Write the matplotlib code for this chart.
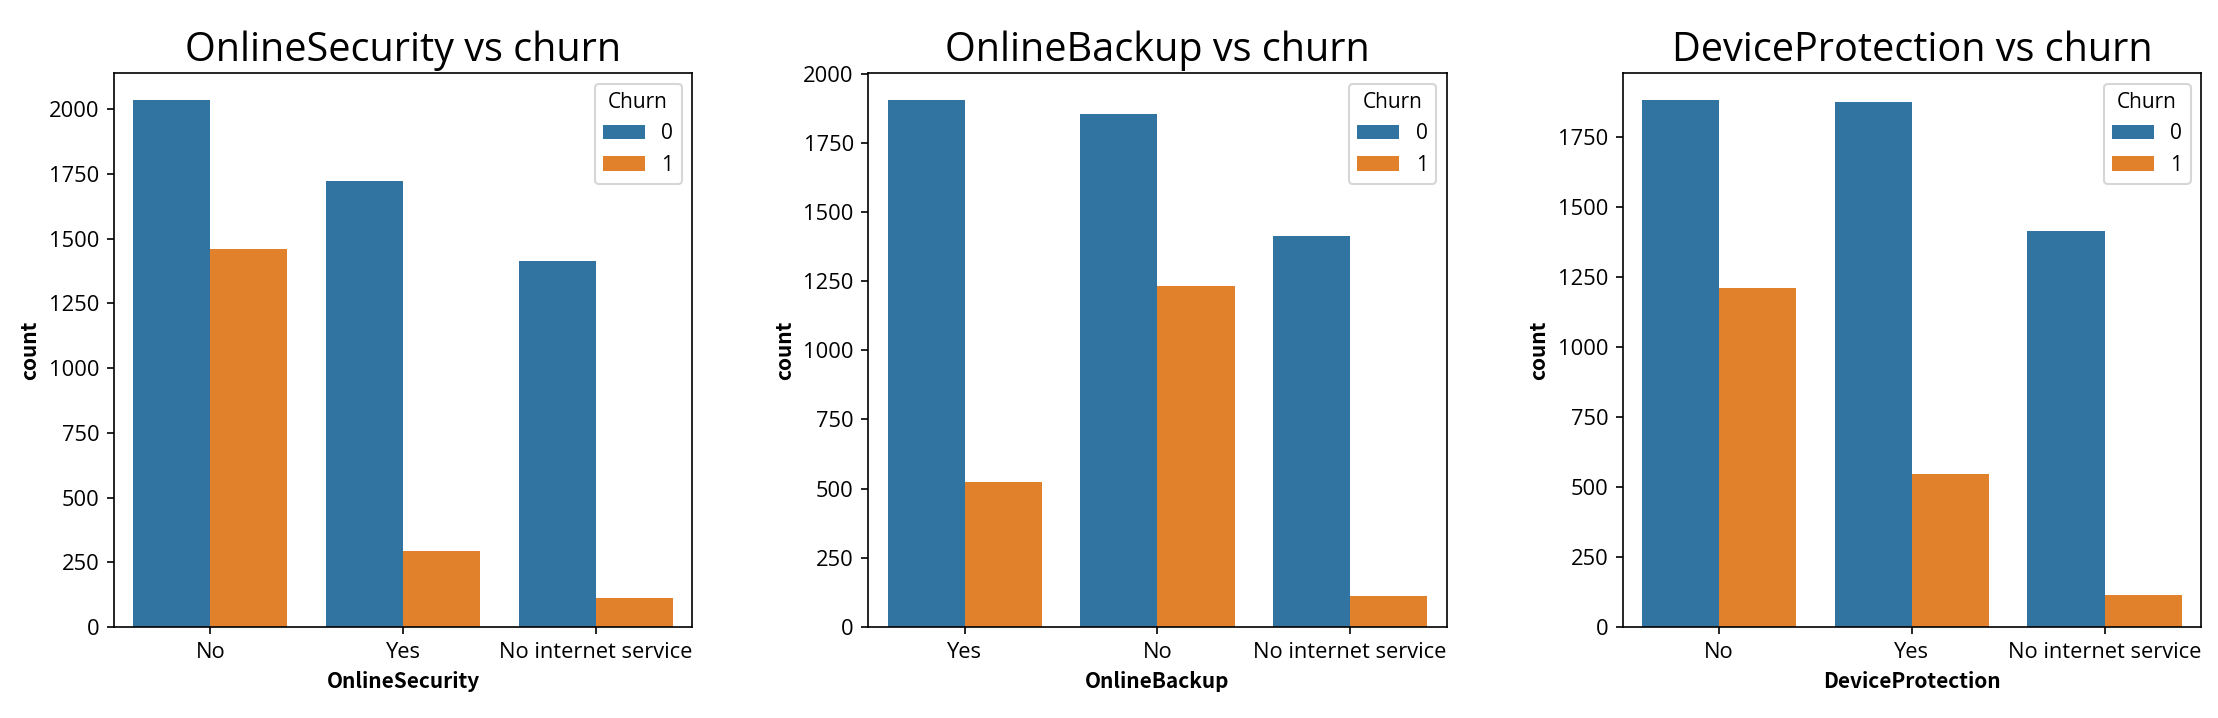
import matplotlib
matplotlib.use("Agg")
import matplotlib.pyplot as plt
import numpy as np

plt.rcParams['font.family'] = ['Open Sans', 'Noto Sans CJK KR', 'DejaVu Sans']
plt.rcParams['axes.unicode_minus'] = False
plt.rcParams['xtick.labelsize'] = 10.5
plt.rcParams['ytick.labelsize'] = 10.5

# counts per category, split by churn (0 / 1)
security_cats = ["No", "Yes", "No internet service"]
security_churn0 = [2037, 1724, 1413]
security_churn1 = [1461, 295, 113]

backup_cats = ["Yes", "No", "No internet service"]
backup_churn0 = [1906, 1855, 1413]
backup_churn1 = [523, 1233, 113]

device_cats = ["No", "Yes", "No internet service"]
device_churn0 = [1884, 1877, 1413]
device_churn1 = [1211, 545, 113]

features = ["OnlineSecurity", "OnlineBackup", "DeviceProtection"]
panels = [
    (security_cats, security_churn0, security_churn1),
    (backup_cats, backup_churn0, backup_churn1),
    (device_cats, device_churn0, device_churn1),
]
hue_levels = ["0", "1"]
colors = ["#3274a1", "#e1812c"]

fig, axes = plt.subplots(1, 3, figsize=(2218 / 150, 718 / 150), dpi=150)
fig.subplots_adjust(left=0.0514, right=0.9923, top=0.898, bottom=0.1267, wspace=0.305)

for ax, name, (cats, c0, c1) in zip(axes, features, panels):
    x = np.arange(len(cats))
    ax.bar(x - 0.2, c0, width=0.4, color=colors[0], label=hue_levels[0])
    ax.bar(x + 0.2, c1, width=0.4, color=colors[1], label=hue_levels[1])
    ax.set_xticks(x)
    ax.set_xticklabels(cats)
    ax.set_xlim(-0.5, len(cats) - 0.5)
    ax.set_title(f"{name} vs churn", fontsize=19)
    ax.set_xlabel(name, fontweight="bold", family=['Noto Sans CJK KR', 'DejaVu Sans'])
    ax.set_ylabel("count", fontweight="bold", family=['Noto Sans CJK KR', 'DejaVu Sans'])
    ax.legend(title="Churn", loc="upper right")

fig.savefig("out.png", dpi=150)
